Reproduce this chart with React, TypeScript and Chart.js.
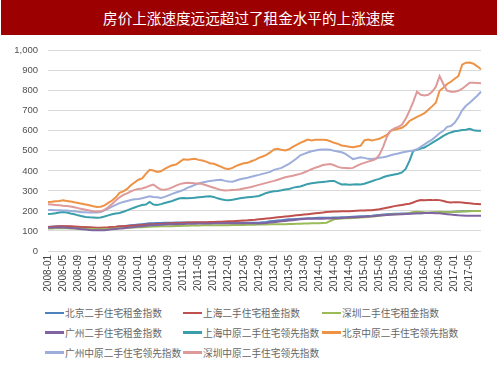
import React, { useEffect, useRef } from 'react';
import { Chart, registerables } from 'chart.js';
Chart.register(...registerables);

const TITLE = '房价上涨速度远远超过了租金水平的上涨速度';

const months: string[] = [];
for (let y = 2008; y <= 2017; y++) {
  for (let m = 1; m <= 12; m++) {
    if (y === 2017 && m > 8) break;
    months.push(`${y}-${m < 10 ? '0' + m : m}`);
  }
}

const yTicks = [0, 100, 200, 300, 400, 500, 600, 700, 800, 900, 1000];

const seriesNames = [
  '北京二手住宅租金指数',
  '上海二手住宅租金指数',
  '深圳二手住宅租金指数',
  '广州二手住宅租金指数',
  '上海中原二手住宅领先指数',
  '北京中原二手住宅领先指数',
  '广州中原二手住宅领先指数',
  '深圳中原二手住宅领先指数',
];

const bjRent = [
  120, 121, 122, 123, 123, 122, 121, 120, 119, 118, 117, 116,
  115, 114, 114, 115, 116, 118, 120, 122, 124, 126, 128, 130,
  132, 134, 136, 138, 139, 140, 140, 141, 141, 141, 142, 142,
  142, 142, 142, 141, 141, 141, 141, 141, 141, 141, 141, 141,
  141, 141, 141, 141, 141, 141, 141, 141, 141, 143, 145, 148,
  150, 152, 154, 156, 158, 159, 160, 161, 162, 163, 164, 165,
  166, 166, 166, 166, 167, 167, 168, 169, 170, 171, 172, 173,
  174, 175, 176, 178, 180, 182, 184, 185, 186, 186, 187, 187,
  187, 188, 188, 189, 190, 190, 191, 192, 193, 193, 194, 195,
  196, 197, 198, 199, 200, 200, 200, 200,
];

const shRent = [
  120, 121, 122, 123, 124, 124, 123, 122, 121, 120, 119, 118,
  117, 116, 116, 117, 118, 120, 121, 123, 124, 125, 126, 127,
  128, 130, 131, 132, 133, 134, 135, 136, 137, 138, 139, 140,
  141, 142, 142, 143, 143, 144, 144, 145, 145, 146, 146, 147,
  148, 149, 150, 151, 152, 153, 155, 156, 158, 160, 162, 164,
  166, 168, 170, 172, 174, 176, 178, 180, 182, 184, 186, 188,
  190, 192, 195, 196, 197, 197, 198, 198, 199, 200, 201, 202,
  202, 203, 204, 206, 208, 212, 216, 220, 224, 227, 230, 233,
  236, 242, 250, 254, 253, 254, 254, 255, 254, 250, 245, 242,
  244, 244, 242, 240, 238, 236, 235, 234,
];

const szRent = [
  112, 112, 113, 113, 113, 113, 112, 112, 111, 111, 110, 110,
  110, 109, 109, 110, 110, 111, 112, 113, 114, 115, 116, 117,
  118, 119, 120, 121, 122, 122, 123, 123, 124, 124, 125, 125,
  126, 126, 127, 127, 127, 128, 128, 128, 128, 129, 129, 129,
  129, 130, 130, 130, 130, 131, 131, 131, 132, 132, 132, 133,
  133, 133, 134, 134, 135, 135, 136, 136, 137, 137, 138, 138,
  139, 140, 141, 150, 158, 161, 162, 163, 164, 165, 166, 167,
  168, 170, 172, 174, 176, 178, 180, 182, 183, 184, 185, 186,
  190, 195, 196, 195, 193, 192, 193, 194, 196, 195, 193, 195,
  196, 197, 197, 198, 199, 200, 200, 200,
];

const gzRent = [
  116, 116, 117, 117, 117, 116, 115, 113, 111, 109, 107, 105,
  104, 103, 103, 104, 106, 108, 110, 112, 114, 116, 118, 120,
  122, 124, 126, 128, 129, 130, 131, 132, 133, 134, 134, 135,
  135, 136, 136, 136, 137, 137, 137, 137, 138, 138, 138, 138,
  138, 138, 139, 139, 139, 139, 139, 138, 137, 138, 140, 142,
  144, 146, 148, 150, 152, 154, 156, 158, 160, 161, 161, 161,
  161, 161, 162, 162, 163, 164, 165, 166, 167, 168, 169, 170,
  171, 172, 173, 175, 177, 179, 180, 181, 182, 183, 184, 185,
  186, 187, 188, 189, 190, 190, 190, 189, 188, 186, 184, 182,
  180, 178, 177, 176, 176, 176, 176, 176,
];

const shCentaline = [
  185, 186, 188, 192, 195, 192, 187, 183, 178, 174, 170, 168,
  167, 166, 167, 172, 178, 183, 187, 190, 196, 203, 210, 217,
  224, 230, 232, 245, 232, 230, 234, 240, 245, 250, 257, 263,
  264, 263, 264, 266, 268, 270, 272, 273, 270, 263, 258, 255,
  254, 256, 260, 263, 266, 268, 270, 272, 275, 282, 290, 295,
  298, 300, 303, 307, 310, 315, 320, 322, 328, 335, 338, 341,
  343, 345, 347, 350, 350, 340, 332, 333, 331, 332, 333, 332,
  336, 342, 348, 355, 360, 368, 374, 378, 382, 386, 392, 410,
  450, 500, 505, 512, 517, 528, 540, 551, 562, 575, 585, 592,
  598, 600, 604, 605, 610, 603, 600, 600,
];

const bjCentaline = [
  245, 246, 248, 250, 253, 250, 247, 243, 240, 236, 232, 228,
  223, 220, 221, 228, 240, 252, 268, 290, 298, 310, 328, 342,
  356, 362, 385, 405, 402, 395, 398, 410, 420, 428, 432, 445,
  458, 456, 458, 460, 455, 452, 446, 438, 436, 428, 420, 412,
  410, 415, 425, 432, 438, 440, 448, 455, 465, 472, 480, 492,
  507, 510, 505, 502, 508, 520, 530, 540, 548, 556, 552, 556,
  555, 556, 554, 548, 540, 535, 527, 524, 520, 518, 522, 525,
  552, 556, 552, 556, 560, 570, 580, 600, 605, 610, 615, 628,
  649, 660, 670, 678, 688, 705, 722, 740, 800, 815, 834, 845,
  860, 873, 930, 940, 941, 935, 922, 907,
];

const gzCentaline = [
  205, 205, 204, 203, 202, 202, 200, 198, 196, 194, 193, 192,
  192, 192, 195, 203, 212, 222, 230, 239, 245, 250, 255, 258,
  260, 263, 268, 273, 270, 268, 265, 270, 278, 285, 292, 298,
  305, 315, 322, 330, 337, 342, 346, 350, 352, 355, 356, 350,
  347, 346, 352, 358, 362, 366, 371, 376, 380, 385, 390, 395,
  405, 410, 415, 425, 435, 448, 462, 478, 485, 492, 498, 502,
  505, 507, 507, 505, 500, 497, 493, 485, 472, 459, 463, 468,
  465, 460, 459, 462, 465, 468, 472, 478, 483, 487, 492, 496,
  499, 502, 508, 520, 532, 545, 556, 572, 588, 600, 620, 624,
  640, 668, 702, 725, 740, 758, 775, 795,
];

const szCentaline = [
  233, 232, 230, 228, 226, 225, 222, 218, 214, 210, 206, 202,
  199, 197, 198, 205, 218, 235, 252, 268, 280, 288, 298, 305,
  310, 312, 318, 326, 332, 318, 307, 306, 310, 318, 326, 334,
  338, 341, 340, 338, 337, 334, 328, 322, 316, 310, 304, 302,
  303, 305, 306, 308, 312, 316, 320, 325, 330, 335, 340, 345,
  350, 356, 362, 368, 372, 376, 381, 385, 392, 400, 408, 416,
  422, 429, 432, 434, 428, 420, 415, 414, 413, 415, 425, 434,
  440, 446, 452, 459, 480, 520, 570, 600, 612, 620, 630, 660,
  700, 745, 795, 780, 776, 780, 795, 820, 873, 834, 800, 795,
  795, 800, 810, 825, 840, 840, 839, 838,
];

const seriesData = [bjRent, shRent, szRent, gzRent, shCentaline, bjCentaline, gzCentaline, szCentaline];
const seriesColors = ['#4F81BD', '#C0504D', '#9BBB59', '#8064A2', '#3A9FAA', '#EE9245', '#9DAEDB', '#DE9A9A'];

export default function App() {
  const canvasRef = useRef<HTMLCanvasElement | null>(null);

  useEffect(() => {
    const canvas = canvasRef.current;
    if (!canvas) return;
    const chart = new Chart(canvas, {
      type: 'line',
      data: {
        labels: months,
        datasets: seriesData.map((d, i) => ({
          label: seriesNames[i],
          data: d,
          borderColor: seriesColors[i],
          backgroundColor: seriesColors[i],
          borderWidth: 2,
          pointRadius: 0,
          tension: 0,
          fill: false,
          order: 8 - i,
        })),
      },
      options: {
        responsive: false,
        animation: false,
        layout: { padding: { top: 11, right: 19, left: 0, bottom: 0 } },
        plugins: {
          legend: { display: false },
          tooltip: { enabled: false },
          title: { display: false },
        },
        scales: {
          x: {
            type: 'category',
            offset: false,
            grid: { display: false, drawTicks: false },
            border: { display: false },
            ticks: {
              autoSkip: false,
              maxRotation: 90,
              minRotation: 90,
              padding: 4,
              color: '#404040',
              font: { family: 'Liberation Sans', size: 10 },
              callback: (_v: any, index: number) => (index % 4 === 0 ? months[index] : ''),
            },
            afterFit: (scale: any) => {
              scale.height = 54;
            },
          },
          y: {
            min: 0,
            max: 1000,
            afterBuildTicks: (scale: any) => {
              scale.ticks = yTicks.map((v) => ({ value: v }));
            },
            grid: { color: '#D9D9D9', lineWidth: 1, drawTicks: false },
            border: { display: false },
            ticks: {
              padding: 10,
              color: '#505050',
              font: { family: 'Liberation Sans', size: 9.5 },
              callback: (v: any) => Number(v).toLocaleString('en-US'),
            },
            afterFit: (scale: any) => {
              scale.width = 48;
            },
          },
        },
      },
    });
    return () => chart.destroy();
  }, []);

  const legendCols = [45, 183, 322];
  const legendRows = [313, 332.5, 352.5];

  return (
    <div style={{ position: 'fixed', left: 0, top: 0, width: 500, height: 375, background: '#ffffff', overflow: 'hidden' }}>
      <div
        style={{
          position: 'absolute',
          left: 1,
          top: 0,
          width: 496,
          height: 35,
          background: '#9C0000',
          color: '#ffffff',
          fontFamily: '"Noto Sans CJK SC", sans-serif',
          fontSize: 14.6,
          lineHeight: '35px',
          textAlign: 'center',
        }}
      >
        {TITLE}
      </div>
      <div style={{ position: 'absolute', left: 0, top: 35, width: 500, height: 270 }}>
        <canvas ref={canvasRef} width={500} height={270} style={{ width: 500, height: 270, display: 'block' }} />
      </div>
      {seriesNames.map((name, i) => {
        const col = i % 3;
        const row = Math.floor(i / 3);
        return (
          <div
            key={name}
            style={{
              position: 'absolute',
              left: legendCols[col],
              top: legendRows[row] - 8,
              height: 16,
              display: 'flex',
              alignItems: 'center',
              whiteSpace: 'nowrap',
            }}
          >
            <span style={{ display: 'inline-block', width: 19, height: 2.5, background: seriesColors[i], marginRight: 1 }} />
            <span style={{ fontFamily: '"Noto Sans CJK SC", sans-serif', fontSize: 9.7, color: '#666666', lineHeight: '16px' }}>
              {name}
            </span>
          </div>
        );
      })}
    </div>
  );
}
